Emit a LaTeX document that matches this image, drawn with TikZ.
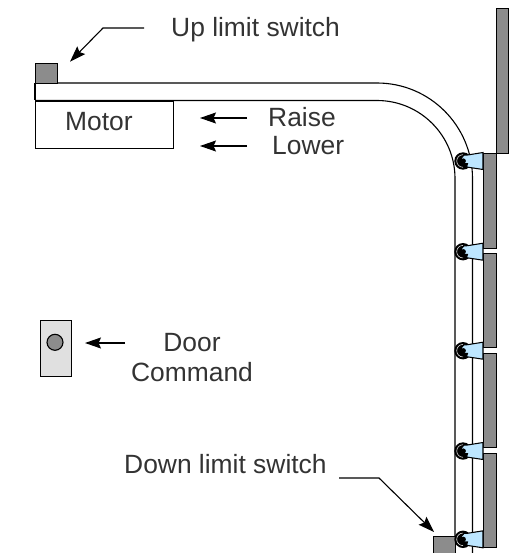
\documentclass[tikz,border=0pt]{standalone}
\usepackage{fontspec}
\setmainfont{Liberation Sans}
\usetikzlibrary{arrows.meta}
\definecolor{panelgray}{HTML}{8C8C8C}
\definecolor{bracketblue}{HTML}{BDE6FF}
\definecolor{stationgray}{HTML}{E0E0E0}
\tikzset{
  panel/.style={draw=black,line width=1.2pt,fill=panelgray},
  rail/.style={draw=black,line width=1.1pt},
  leader/.style={draw=black,line width=1.1pt,-{Stealth[length=16pt,width=11pt,inset=2.5pt]}},
  label/.style={font=\fontsize{26.4}{30}\selectfont,text=black!80,align=center,inner sep=0pt},
  pics/roller/.style={code={
    \fill[black] (0,0) circle (8.7);
    \draw[white,line width=0.5pt] (0,-6.3) arc[start angle=-90,end angle=-270,radius=6.3];
    \filldraw[fill=bracketblue,draw=black,line width=1.05pt] (20,-8.5) -- (4.5,-6)
       arc[start angle=-70,end angle=-290,radius=4.6] -- (3.5,6) -- (20,8.5) -- cycle;
    \fill[black] (0.3,0) circle (2.6);
  }}
}
\begin{document}
\begin{tikzpicture}[x=1pt,y=-1pt]
\useasboundingbox (0,0) rectangle (511,553);
% rails
\draw[rail] (35,83) -- (377,83) arc[start angle=-90,end angle=0,radius=95.5] -- (472.5,553);
\draw[rail] (35,100.5) -- (377,100.5) arc[start angle=-90,end angle=0,radius=78] -- (455,553);
% motor and switches
\node[draw=black,line width=1.1pt,fill=white,minimum width=138pt,minimum height=47.5pt,inner sep=0pt,anchor=north west] (motor) at (35,100.5) {};
\node[label,anchor=base west] (motorlabel) at (65,131) {Motor};
\draw[rail] (35,83) -- (35,100.5);
\node[panel,line width=1pt,minimum width=21.5pt,minimum height=19.5pt,inner sep=0pt,anchor=north west] (uplimit) at (35,63.5) {};
\node[panel,line width=1pt,minimum width=22pt,minimum height=17pt,inner sep=0pt,anchor=north west] (downlimit) at (433,536) {};
% panels
\node[panel,minimum width=12.5pt,minimum height=145pt,inner sep=0pt,anchor=north west] (p0) at (495.5,8) {};
\node[panel,minimum width=13pt,minimum height=95pt,inner sep=0pt,anchor=north west] (p1) at (483,153) {};
\node[panel,minimum width=13pt,minimum height=94pt,inner sep=0pt,anchor=north west] (p2) at (483,253) {};
\node[panel,minimum width=13pt,minimum height=94pt,inner sep=0pt,anchor=north west] (p3) at (483,353) {};
\node[panel,minimum width=13pt,minimum height=94pt,inner sep=0pt,anchor=north west] (p4) at (483,453) {};
% rollers
\pic at (463,161) {roller};
\pic at (463,251.7) {roller};
\pic at (463,350.7) {roller};
\pic at (463,451) {roller};
\pic at (463,539.3) {roller};
% door station
\node[draw=black,line width=1.1pt,fill=stationgray,minimum width=31pt,minimum height=56pt,inner sep=0pt,anchor=north west] (station) at (40,320) {};
\node[draw=black,line width=1.1pt,fill=panelgray,circle,minimum size=16pt,inner sep=0pt] (button) at (55,342.3) {};
% labels
\node[label,anchor=base west] (uplabel) at (171,36.7) {Up limit switch};
\node[label,anchor=base west] (raise) at (268,127) {Raise};
\node[label,anchor=base west] (lower) at (272,155) {Lower};
\node[label,anchor=base] (door) at (192,351) {Door};
\node[label,anchor=base] (command) at (192,381) {Command};
\node[label,anchor=base west] (downlabel) at (124,473) {Down limit switch};
% leaders
\coordinate (upstart) at (144,28);
\coordinate (upbend) at (103,28);
\coordinate (uptip) at (70,61.7);
\draw[leader] (upstart) -- (upbend) -- (uptip);
\coordinate (raisetip) at (200,118);
\coordinate (raisestart) at (247,118);
\draw[leader] (raisestart) -- (raisetip);
\coordinate (lowertip) at (200,146);
\coordinate (lowerstart) at (247,146);
\draw[leader] (lowerstart) -- (lowertip);
\coordinate (doortip) at (85,343);
\coordinate (doorstart) at (125,343);
\draw[leader,line width=1.3pt] (doorstart) -- (doortip);
\coordinate (downstart) at (339,478);
\coordinate (downbend) at (379,478);
\coordinate (downtip) at (434,532);
\draw[leader] (downstart) -- (downbend) -- (downtip);
\end{tikzpicture}
\end{document}
